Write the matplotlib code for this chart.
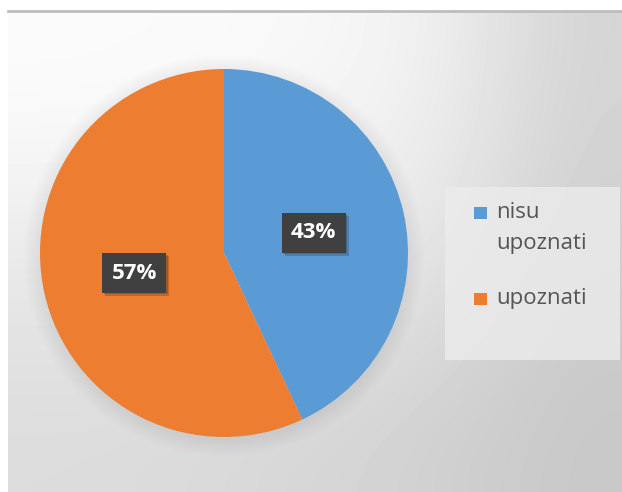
import numpy as np
import matplotlib.pyplot as plt
import matplotlib.patheffects as pe
from matplotlib.patches import Rectangle, Circle
from matplotlib.lines import Line2D

plt.rcParams['font.family'] = ['Open Sans', 'DejaVu Sans']

# podaci
categories = ['nisu upoznati', 'upoznati']
legend_labels = ['nisu\nupoznati', 'upoznati']
shares = [43, 57]
colors = ['#5B9BD5', '#ED7D31']

W, H = 622, 492
fig = plt.figure(figsize=(W / 100, H / 100), dpi=100)
fig.patch.set_facecolor('white')


def box(x, y, w, h):
    # pikseli (gornji lijevi kut) -> dio figure
    return [x / W, 1 - (y + h) / H, w / W, h / H]


# pozadina s gradijentom
bg = fig.add_axes(box(8, 12, W - 8, H - 12))
grey = np.array([
    [251, 250, 248, 240, 212],
    [246, 244, 242, 236, 210],
    [234, 236, 236, 230, 206],
    [226, 226, 224, 216, 202],
    [220, 218, 214, 208, 200]]) / 255
bg.imshow(grey, cmap='gray', vmin=0, vmax=1, interpolation='bicubic',
          aspect='auto', extent=[0, 1, 0, 1])
bg.axis('off')
fig.add_artist(Line2D([8 / W, 1], [1 - 11 / H] * 2, color='#bdbdbd', lw=2))

# pita
r = 184
m = 214
ax = fig.add_axes(box(224 - m, 253 - m, 2 * m, 2 * m))
for i in range(16):
    ax.add_patch(Circle((0, -0.015), 1 + 0.006 * i, color='k', alpha=0.004,
                        lw=0, zorder=0))
wedges, texts, autotexts = ax.pie(
    shares, colors=colors, startangle=90, counterclock=False,
    autopct=lambda p: f'{p:.0f}%', pctdistance=0.5,
    wedgeprops=dict(linewidth=0),
    textprops=dict(color='white', fontsize=16, fontweight='bold'))
for t in autotexts:
    t.set_bbox(dict(boxstyle='square,pad=0.42', facecolor='#404040',
                    edgecolor='none'))
    t.get_bbox_patch().set_path_effects(
        [pe.SimplePatchShadow(offset=(2, -2), alpha=0.2),
         pe.SimplePatchShadow(offset=(1, -1), alpha=0.2), pe.Normal()])
ax.set_xlim(-m / r, m / r)
ax.set_ylim(-m / r, m / r)
ax.axis('off')

# legenda
fig.add_artist(Rectangle((445 / W, 1 - 360 / H), 175 / W, 173 / H,
                         transform=fig.transFigure, facecolor='#ececec',
                         edgecolor='none', alpha=0.8))
for i, (lab, col) in enumerate(zip(legend_labels, colors)):
    yc = 213 + i * 86
    fig.add_artist(Rectangle((474 / W, 1 - (yc + 6) / H), 13 / W, 12 / H,
                             transform=fig.transFigure, facecolor=col,
                             edgecolor='none'))
    fig.text(496 / W, 1 - (yc - 11) / H, lab, ha='left', va='top',
             fontsize=16, color='#555555', linespacing=1.6)

fig.savefig('out.png', dpi=100)
